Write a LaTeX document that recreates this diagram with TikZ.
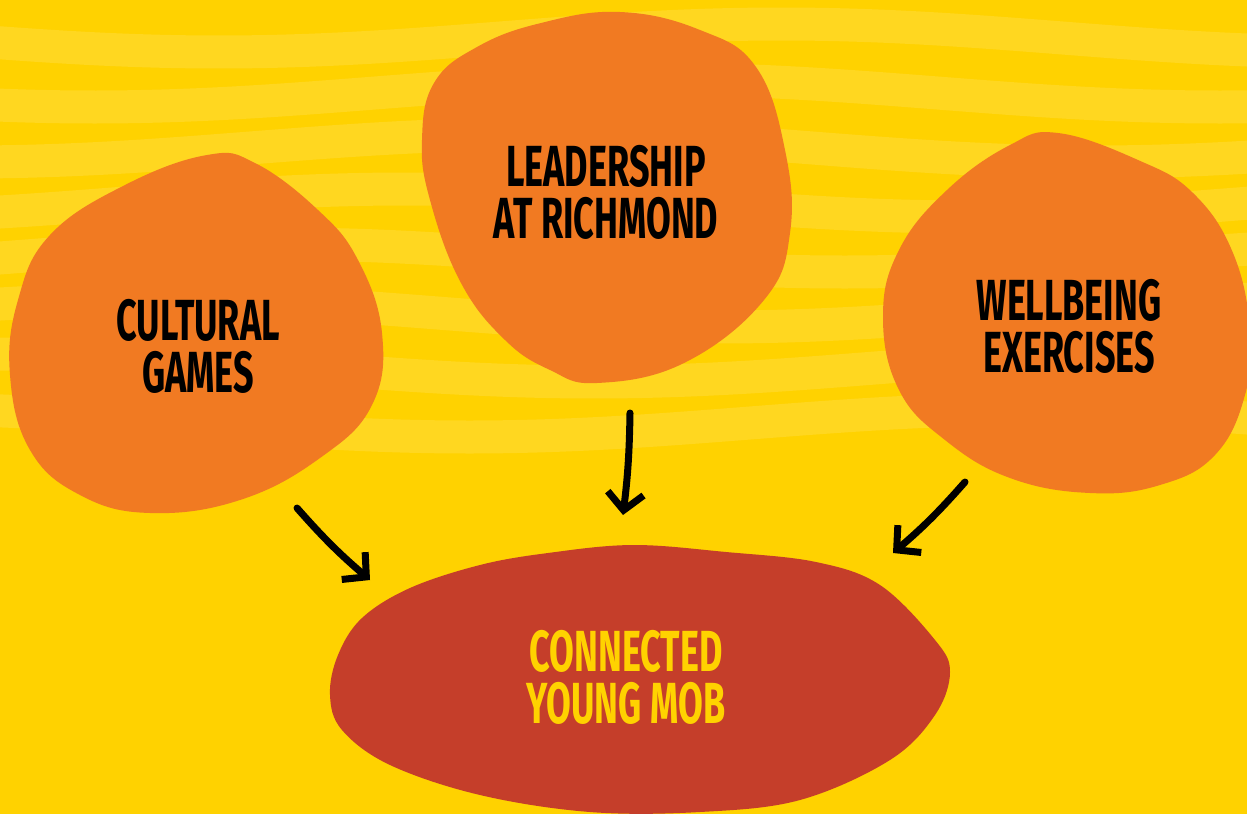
\documentclass[tikz,border=0pt]{standalone}
\usepackage{fontspec}
\newfontfamily\blobfont[FakeStretch=0.62]{Fira Sans}
\usetikzlibrary{arrows.meta}
\definecolor{bgyellow}{RGB}{255,210,0}
\definecolor{stripe}{RGB}{255,215,32}
\definecolor{blobor}{RGB}{241,122,34}
\definecolor{blobred}{RGB}{197,62,42}
\tikzset{
  blobfill/.style={fill=blobor, draw=none},
  lbl/.style={font=\blobfont\bfseries\fontsize{58}{52}\selectfont, align=center, inner sep=0pt, text=black},
  arr/.style={line width=7pt, line cap=round, -{Straight Barb[length=17pt,width=36pt,line width=7pt]}},
  band/.style={line width=33pt, draw=stripe},
}
\begin{document}
\begin{tikzpicture}[x=1pt,y=-1pt]
\useasboundingbox (0,0) rectangle (1247,814);
\fill[bgyellow] (0,0) rectangle (1247,814);
\begin{scope}
\clip (0,0) rectangle (1247,814);
\foreach \k/\ph in {0/20,1/60,2/100,3/140,4/180,5/220,6/260,7/300}{
  \draw[band] plot[smooth, domain=-40:1290, samples=40] (\x, {38+55*\k + 14*sin(0.32*\x + \ph)});
}
\end{scope}
% blobs
\fill[blobfill] plot[smooth cycle, tension=0.7] coordinates {
 (207,155) (255,163) (318,210) (358,260) (382,333) (372,405) (320,458) (240,500)
 (150,513) (80,495) (30,450) (10,375) (18,300) (50,235) (125,185)};
\fill[blobfill] plot[smooth cycle, tension=0.7] coordinates {
 (620,12) (700,30) (756,67) (785,150) (790,233) (764,300) (684,363) (597,383)
 (550,370) (505,340) (461,283) (430,200) (422,140) (434,83) (477,47) (541,23)};
\fill[blobfill] plot[smooth cycle, tension=0.7] coordinates {
 (1058,133) (1138,160) (1193,193) (1233,253) (1250,330) (1245,395) (1215,455)
 (1160,485) (1090,493) (1010,478) (945,440) (899,390) (883,317) (899,250) (947,190) (1010,145)};
\fill[blobred] plot[smooth cycle, tension=0.6] coordinates {
 (633,545) (726,552) (816,562) (880,585) (935,640) (950,672) (935,715) (890,760)
 (800,800) (700,812) (590,812) (480,795) (390,765) (342,730) (330,695) (338,655)
 (362,618) (410,588) (480,565) (548,553)};
% labels
\node[lbl] (games) at (198,346) {CULTURAL\\GAMES};
\node[lbl] (lead) at (606,192) {LEADERSHIP\\AT RICHMOND};
\node[lbl] (well) at (1069,326) {WELLBEING\\EXERCISES};
\node[lbl, text=bgyellow] (mob) at (626,677) {CONNECTED\\YOUNG MOB};
% arrows
\coordinate (a1s) at (297,508); \coordinate (a1e) at (370,580);
\coordinate (a2s) at (630,413); \coordinate (a2e) at (623,515);
\coordinate (a3s) at (965,482); \coordinate (a3e) at (893,553);
\draw[arr] (a1s) to[bend right=4] (a1e);
\draw[arr] (a2s) to[bend left=3] (a2e);
\draw[arr] (a3s) to[bend left=4] (a3e);
\end{tikzpicture}
\end{document}
